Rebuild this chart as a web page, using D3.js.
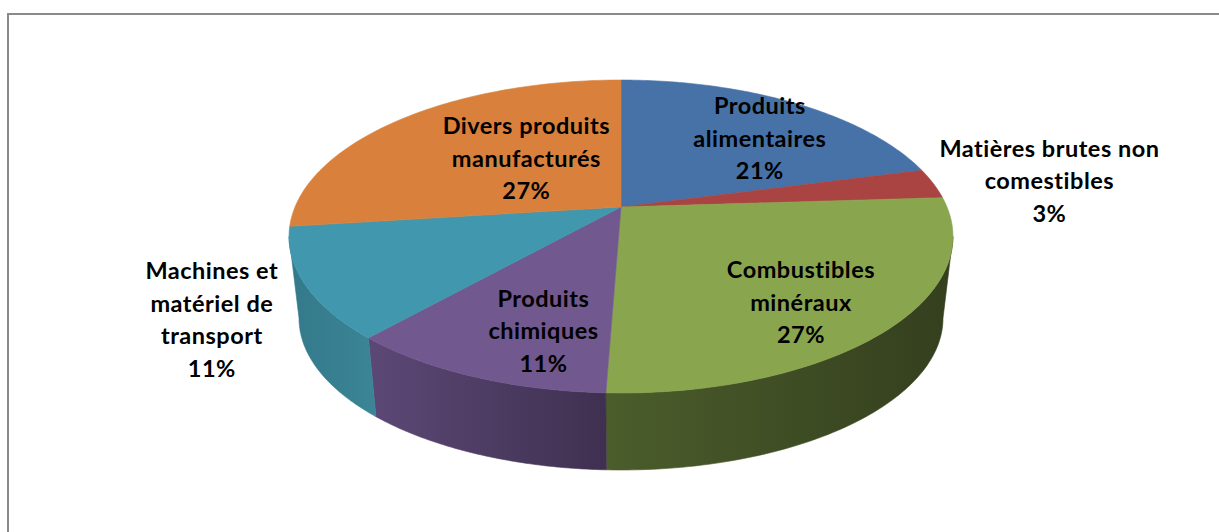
<!DOCTYPE html>
<html>
<head>
<meta charset="utf-8">
<script src="https://cdn.jsdelivr.net/npm/d3@7"></script>
<style>
  html, body { margin: 0; padding: 0; background: #fff; }
  svg { display: block; }
</style>
</head>
<body>
<svg id="chart" width="1219" height="532"></svg>
<script>
// ---- data ----
const categories = [
  "Produits\nalimentaires",
  "Matières brutes non\ncomestibles",
  "Combustibles\nminéraux",
  "Produits\nchimiques",
  "Machines et\nmatériel de\ntransport",
  "Divers produits\nmanufacturés"
];
const values = [20.9, 3.1, 26.6, 11.0, 11.4, 27.0];
const topColors  = ["#4672a8", "#a94442", "#89a54e", "#71588f", "#4197ad", "#d9813c"];
const sideColorsA = ["#35557e", "#7f3331", "#4b5d2b", "#5c4876", "#33798a", "#a3612d"];
const sideColorsB = ["#2c4769", "#6a2a29", "#343f1e", "#3f3050", "#3a8597", "#885125"];

// label placement (radius factor, angular tweak in degrees)
const labelR   = [0.68, 1.37, 0.75, 0.74, 1.28, 0.46];
const labelDA  = [5.6, 1.7, 4.6, -5.8, -3.0, 6.4];

// ---- geometry ----
const svg = d3.select("#chart");
const W = 1219, H = 532;
const cx = 621, B = 326;
const pa = 111.9, pb = 207, pc = -0.1885;
const sBot = 0.97, yBot = 289.6;

function project(theta, r, bottom) {
  const u = r * Math.sin(theta), v = -r * Math.cos(theta);
  const den = 1 + pc * v;
  let x = cx + B * u / den;
  let y = (pa * v + pb) / den;
  if (bottom) {
    x = cx + sBot * (x - cx);
    y = yBot + sBot * (y - pb);
  }
  return [x, y];
}

// frame
svg.append("rect")
  .attr("x", 8).attr("y", 14)
  .attr("width", W + 50).attr("height", H + 50)
  .attr("fill", "none").attr("stroke", "#8a8a8a").attr("stroke-width", 2);

const pie = d3.pie().sort(null).value(d => d).startAngle(0).endAngle(2 * Math.PI);
const arcs = pie(values);
const total = d3.sum(values);

const defs = svg.append("defs");
arcs.forEach((d, i) => {
  const g = defs.append("linearGradient").attr("id", "side" + i)
    .attr("x1", 0).attr("x2", 1).attr("y1", 0).attr("y2", 0);
  g.append("stop").attr("offset", "0%").attr("stop-color", sideColorsA[i]);
  g.append("stop").attr("offset", "100%").attr("stop-color", sideColorsB[i]);
});

// visible side range (tangent points)
const vT = -pc;
const thR = Math.PI - Math.acos(vT);       // right silhouette
const thL = Math.PI + Math.acos(vT);       // left silhouette

const line = d3.line();
const N = 80;

const sideG = svg.append("g");
arcs.forEach((d, i) => {
  const a = Math.max(d.startAngle, thR), b = Math.min(d.endAngle, thL);
  if (b <= a) return;
  const pts = [];
  for (let j = 0; j <= N; j++) pts.push(project(a + (b - a) * j / N, 1, false));
  for (let j = N; j >= 0; j--) pts.push(project(a + (b - a) * j / N, 1, true));
  sideG.append("path")
    .attr("d", line(pts) + "Z")
    .attr("fill", `url(#side${i})`)
    .attr("stroke", `url(#side${i})`).attr("stroke-width", 0.6);
});

const topG = svg.append("g");
arcs.forEach((d, i) => {
  const pts = [project(0, 0, false)];
  for (let j = 0; j <= N; j++) pts.push(project(d.startAngle + (d.endAngle - d.startAngle) * j / N, 1, false));
  topG.append("path")
    .attr("d", line(pts) + "Z")
    .attr("fill", topColors[i])
    .attr("stroke", topColors[i]).attr("stroke-width", 0.6);
});

// labels
const fmt = d3.format(".0%");
const lineH = 32.5;
const labG = svg.append("g")
  .attr("font-family", "Lato, 'Open Sans', sans-serif")
  .attr("font-weight", "bold")
  .attr("font-size", "23.5px")
  .attr("letter-spacing", "0.5px")
  .attr("fill", "#000")
  .attr("text-anchor", "middle");
arcs.forEach((d, i) => {
  const mid = (d.startAngle + d.endAngle) / 2 + labelDA[i] * Math.PI / 180;
  const [x, y] = project(mid, labelR[i], false);
  const lines = categories[i].split("\n").concat([fmt(values[i] / total)]);
  const y0 = y - (lines.length - 1) * lineH / 2;
  const t = labG.append("text").attr("x", x).attr("y", y0);
  lines.forEach((ln, j) => {
    t.append("tspan").attr("x", x).attr("y", y0 + j * lineH).attr("dy", "0.35em").text(ln);
  });
});
</script>
</body>
</html>
